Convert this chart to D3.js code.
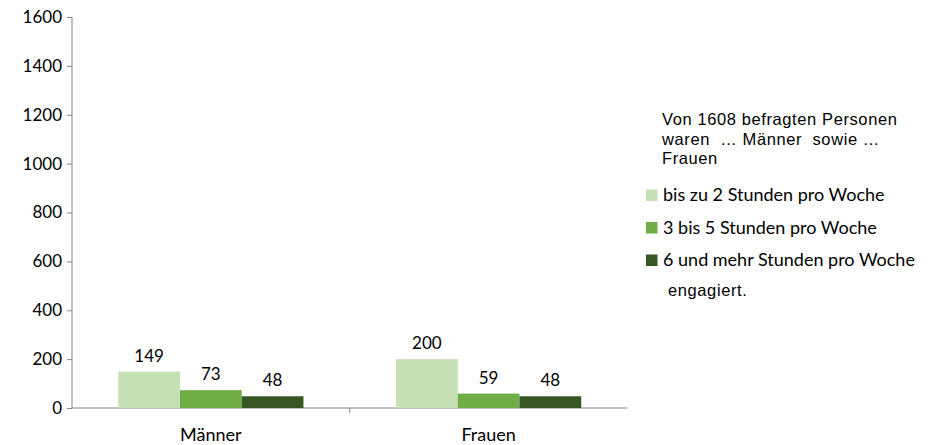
<!DOCTYPE html>
<html>
<head>
<meta charset="utf-8">
<script src="https://cdn.jsdelivr.net/npm/d3@7"></script>
<style>
	body { margin: 0; background: #fff; }
	svg text { font-family: Lato, "Open Sans", sans-serif; }
</style>
</head>
<body>
<div id="chart"></div>
<script>
// Data
const categories = ["Männer", "Frauen"];
const seriesNames = ["bis zu 2 Stunden pro Woche", "3 bis 5 Stunden pro Woche", "6 und mehr Stunden pro Woche"];
const seriesColors = ["#c5e0b4", "#70ad47", "#375623"];
const values = [
	[149, 73, 48],   // Männer
	[200, 59, 48]    // Frauen
];
const yTicks = [0, 200, 400, 600, 800, 1000, 1200, 1400, 1600];
const noteLines = ["Von 1608 befragten Personen", "waren  … Männer  sowie …", "Frauen"];
const footer = "engagiert.";

const width = 932, height = 445;
const plotLeft = 72, plotRight = 627.5, plotTop = 17, plotBottom = 408;
const font = "Lato, 'Open Sans', sans-serif";
const noteFont = "'Liberation Sans', Arial, sans-serif";

const svg = d3.select("#chart").append("svg")
	.attr("width", width)
	.attr("height", height);

const x = d3.scaleBand()
	.domain(categories)
	.range([plotLeft, plotRight]);

// gap width of 150%: bars take 3/(3+1.5) of the band
const inner = d3.scaleBand()
	.domain(d3.range(seriesNames.length))
	.range([0, x.bandwidth() * 3 / 4.5]);

const y = d3.scaleLinear()
	.domain([0, 1600])
	.range([plotBottom, plotTop]);

// y axis
const yAxis = d3.axisLeft(y)
	.tickValues(yTicks)
	.tickFormat(d3.format("d"))
	.tickSize(5)
	.tickPadding(5);

const gy = svg.append("g")
	.attr("transform", "translate(" + plotLeft + ",0)")
	.call(yAxis);
gy.select(".domain").attr("stroke", "#868686").attr("d", "M0," + plotTop + "V" + plotBottom);
gy.selectAll(".tick line").attr("stroke", "#868686");
gy.selectAll(".tick text")
	.attr("fill", "#000")
	.attr("font-size", "17px")
	.style("font-family", font);

// x axis
const xAxis = d3.axisBottom(x)
	.tickSize(0)
	.tickPadding(20);

const gx = svg.append("g")
	.attr("transform", "translate(0," + plotBottom + ")")
	.call(xAxis);
gx.select(".domain").attr("stroke", "#868686").attr("d", "M" + plotLeft + ",0H" + plotRight);
gx.selectAll(".tick text")
	.attr("fill", "#000")
	.attr("font-size", "18px")
	.style("font-family", font);

// category separator ticks
svg.selectAll("line.sep")
	.data(categories.slice(1))
	.join("line")
	.attr("class", "sep")
	.attr("x1", d => x(d))
	.attr("x2", d => x(d))
	.attr("y1", plotBottom)
	.attr("y2", plotBottom + 5)
	.attr("stroke", "#868686");

// bars
const groups = svg.selectAll("g.cat")
	.data(categories)
	.join("g")
	.attr("class", "cat")
	.attr("transform", d => "translate(" + (x(d) + (x.bandwidth() - inner.range()[1]) / 2) + ",0)");

groups.selectAll("rect")
	.data((d, i) => values[i])
	.join("rect")
	.attr("x", (v, j) => inner(j))
	.attr("y", v => y(v))
	.attr("width", inner.bandwidth())
	.attr("height", v => plotBottom - y(v))
	.attr("fill", (v, j) => seriesColors[j]);

groups.selectAll("text")
	.data((d, i) => values[i])
	.join("text")
	.attr("x", (v, j) => inner(j) + inner.bandwidth() / 2)
	.attr("y", v => y(v) - 10)
	.attr("text-anchor", "middle")
	.attr("font-size", "17px")
	.attr("fill", "#000")
	.text(v => v);

// note above legend
svg.append("g")
	.selectAll("text")
	.data(noteLines)
	.join("text")
	.attr("x", 662)
	.attr("y", (d, i) => 125 + i * 19.5)
	.attr("font-size", "16.5px")
	.attr("letter-spacing", "0.6px")
	.style("white-space", "pre")
	.style("font-family", noteFont)
	.attr("fill", "#000")
	.text(d => d);

// legend
const legend = svg.append("g")
	.selectAll("g")
	.data(seriesNames)
	.join("g")
	.attr("transform", (d, i) => "translate(646," + (189.5 + i * 32.5) + ")");

legend.append("rect")
	.attr("width", 11.5)
	.attr("height", 11.5)
	.attr("fill", (d, i) => seriesColors[i]);

legend.append("text")
	.attr("x", 17)
	.attr("y", 11.5)
	.attr("font-size", "18px")
	.attr("fill", "#000")
	.text(d => d);

svg.append("text")
	.attr("x", 668)
	.attr("y", 296)
	.attr("font-size", "16.5px")
	.attr("letter-spacing", "0.6px")
	.style("font-family", noteFont)
	.attr("fill", "#000")
	.text(footer);
</script>
</body>
</html>
